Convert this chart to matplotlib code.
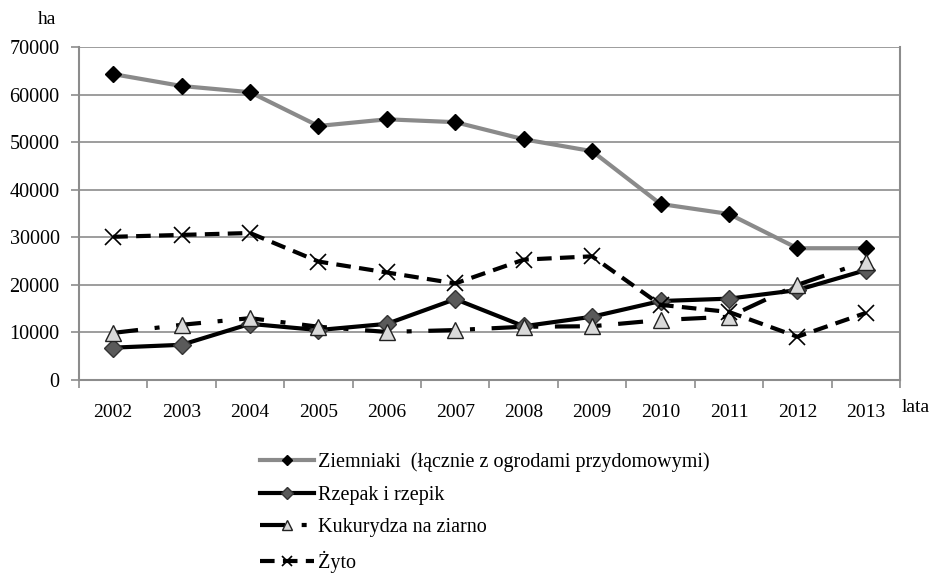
import matplotlib
matplotlib.use("Agg")
import matplotlib.pyplot as plt
import numpy as np

years = ["2002", "2003", "2004", "2005", "2006", "2007", "2008", "2009", "2010", "2011", "2012", "2013"]
ziemniaki = [64300, 61800, 60500, 53400, 54800, 54200, 50600, 48100, 37000, 34900, 27700, 27700]
rzepak = [6800, 7400, 11800, 10500, 11800, 17000, 11300, 13300, 16600, 17100, 18900, 23100]
kukurydza = [9900, 11600, 13000, 11200, 10100, 10500, 11200, 11300, 12600, 13300, 20000, 24900]
zyto = [30100, 30500, 30900, 24900, 22600, 20300, 25300, 26000, 15800, 14300, 9100, 14100]
labels = ["Ziemniaki  (łącznie z ogrodami przydomowymi)", "Rzepak i rzepik",
          "Kukurydza na ziarno", "Żyto"]
yticks = [0, 10000, 20000, 30000, 40000, 50000, 60000, 70000]

plt.rcParams['font.family'] = ['Liberation Serif', 'DejaVu Serif']

fig = plt.figure(figsize=(9.32, 5.75), dpi=100)
ax = fig.add_axes([79/932, 1-380/575, (900-79)/932, (380-47)/575])

x = np.arange(len(years))
grid_c = '#8c8c8c'
ax.set_axisbelow(True)
for v in yticks[1:]:
    ax.axhline(v, color=grid_c, lw=1.2, zorder=0)

l1, = ax.plot(x, ziemniaki, color='#8a8a8a', lw=3, marker='D', ms=8,
              mfc='black', mec='black', zorder=3)
l2, = ax.plot(x, rzepak, color='black', lw=3, marker='D', ms=9,
              mfc='#5a5a5a', mec='#333333', zorder=4)
l3, = ax.plot(x, kukurydza, color='black', lw=3, dashes=(6, 4, 1.2, 4),
              marker='^', ms=11, mfc='#d9d9d9', mec='#222222', mew=1, zorder=5)
l4, = ax.plot(x, zyto, color='black', lw=3, dashes=(3.5, 2),
              marker='x', ms=11, mec='black', mew=1.2, zorder=6)

ax.set_xlim(-0.5, len(years)-0.5)
ax.set_ylim(0, 70000)
ax.set_yticks(yticks)
ax.set_yticklabels([str(v) for v in yticks], fontsize=14.5)
ax.set_xticks(x)
ax.set_xticklabels(years, fontsize=14)
ax.tick_params(axis='x', which='major', length=0, pad=17)
ax.set_xticks(np.arange(-0.5, len(years), 1.0), minor=True)
ax.tick_params(axis='x', which='minor', length=6, color=grid_c, width=1.2)
ax.tick_params(axis='y', length=6, color=grid_c, width=1.2, pad=8)

for s in ['left', 'bottom', 'right']:
    ax.spines[s].set_color(grid_c)
    ax.spines[s].set_linewidth(1.5)
ax.spines['top'].set_visible(False)

fig.text(47/932, 1-20/575, "ha", fontsize=14, ha='center', va='center')
fig.text(916/932, 1-408/575, "lata", fontsize=14, ha='center', va='center')

leg = fig.legend([l1, l2, l3, l4], labels, loc='upper left',
                 bbox_to_anchor=(252/932, 1-444/575), frameon=False,
                 fontsize=14.5, handlelength=2.7, labelspacing=0.68,
                 markerscale=0.7, handletextpad=0.2, borderaxespad=0)

fig.savefig("out.png", dpi=100)
